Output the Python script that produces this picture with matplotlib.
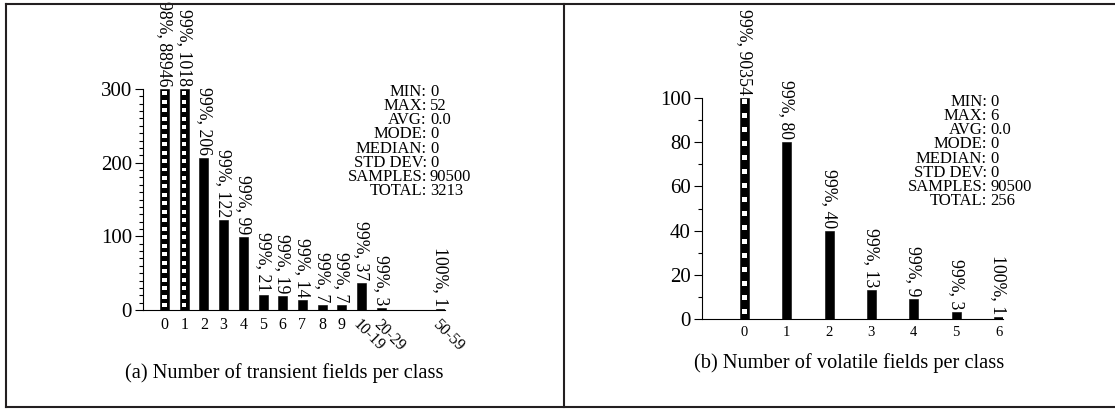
import numpy as np
import matplotlib
matplotlib.use('Agg')
import matplotlib.pyplot as plt
from matplotlib.lines import Line2D
from matplotlib.ticker import MultipleLocator

plt.rcParams['font.family'] = ['Liberation Serif', 'DejaVu Serif']

# (a) transient fields per class
trans_cats = ['0', '1', '2', '3', '4', '5', '6', '7', '8', '9',
              '10-19', '20-29', '30-39', '40-49', '50-59']
trans_counts = [88946, 1018, 206, 122, 99, 21, 19, 14, 7, 7, 37, 3, 0, 0, 1]
trans_pct = [98, 99, 99, 99, 99, 99, 99, 99, 99, 99, 99, 99, 100, 100, 100]
trans_stats = ['0', '52', '0.0', '0', '0', '0', '90500', '3213']

# (b) volatile fields per class
vol_cats = ['0', '1', '2', '3', '4', '5', '6']
vol_counts = [90354, 80, 40, 13, 9, 3, 1]
vol_pct = [99, 99, 99, 99, 99, 99, 100]
vol_stats = ['0', '6', '0.0', '0', '0', '0', '90500', '256']

stat_names = ['MIN', 'MAX', 'AVG', 'MODE', 'MEDIAN', 'STD DEV', 'SAMPLES', 'TOTAL']

fig = plt.figure(figsize=(11.15, 4.09), dpi=100)


def panel(rect, cats, counts, pct, stats, ymax, ymaj, ymin, xlim, barw,
          xfs, sx, sy, sq):
    ax = fig.add_axes(rect)
    x = np.arange(len(cats))
    counts = np.array(counts)
    shown = np.minimum(counts, ymax)
    ax.bar(x, shown, barw, color='black', edgecolor='black', linewidth=0.4)
    # checkered look for the bars that run off the top
    period, sqh, sqw = sq
    for xi, h, c in zip(x, shown, counts):
        if c > ymax:
            bottoms = np.arange(period * 0.35, h - sqh * 0.5, period)
            ax.bar(np.full(len(bottoms), xi), sqh, barw * sqw, bottom=bottoms,
                   color='white', linewidth=0)
    for xi, h, c, p in zip(x, shown, counts, pct):
        if c > 0:
            ax.annotate('%d%%, %d' % (p, c), (xi, h), xytext=(0, 2),
                        textcoords='offset points', rotation=270,
                        ha='center', va='bottom', fontsize=12.8,
                        annotation_clip=False)
    ax.set_xlim(*xlim)
    ax.set_ylim(0, ymax)
    ax.set_xticks(x)
    ax.set_xticklabels([c if n > 0 else '' for c, n in zip(cats, counts)])
    for lab in ax.get_xticklabels():
        if '-' in lab.get_text():
            lab.set_rotation(-45)
            lab.set_rotation_mode('anchor')
            lab.set_ha('left')
            lab.set_va('top')
    ax.yaxis.set_major_locator(MultipleLocator(ymaj))
    ax.yaxis.set_minor_locator(MultipleLocator(ymin))
    ax.tick_params(axis='x', length=0, pad=5, labelsize=xfs)
    ax.tick_params(axis='y', which='major', length=6, width=0.8,
                   labelsize=15, pad=2)
    ax.tick_params(axis='y', which='minor', length=3, width=0.8)
    ax.spines['top'].set_visible(False)
    ax.spines['right'].set_visible(False)
    ax.spines['left'].set_linewidth(0.8)
    ax.spines['bottom'].set_linewidth(0.8)
    # stats block: names right-aligned on the colon, values left-aligned
    gap = 3 / (rect[2] * 1115)
    ax.text(sx, sy, '\n'.join(k + ':' for k in stat_names), transform=ax.transAxes,
            ha='right', va='center', multialignment='right', fontsize=12,
            linespacing=0.85)
    ax.text(sx + gap, sy, '\n'.join(stats), transform=ax.transAxes,
            ha='left', va='center', multialignment='left', fontsize=12,
            linespacing=0.85)
    return ax


panel([143 / 1115, 99 / 409, 302 / 1115, 221 / 409], trans_cats, trans_counts,
      trans_pct, trans_stats, 300, 100, 10, (-1.09, 14.23), 0.457, 11.5,
      0.940, (310 - 141.5) / 221, (11.5, 5.4, 0.48))
panel([702 / 1115, 90 / 409, 301 / 1115, 221 / 409], vol_cats, vol_counts,
      vol_pct, vol_stats, 100, 20, 10, (-1.0, 6.106), 0.213, 10.5,
      0.947, (319 - 151.5) / 221, (6.33, 2.26, 0.55))

fig.text(284 / 1115, 1 - 373 / 409, '(a) Number of transient fields per class',
         ha='center', va='center', fontsize=14.7)
fig.text(849 / 1115, 1 - 363 / 409, '(b) Number of volatile fields per class',
         ha='center', va='center', fontsize=14.7)

# frame around the two sub-figures
fc = '#231f20'
top = 1 - 4 / 409
bot = 1 - 407 / 409
fig.add_artist(Line2D([6 / 1115, 1], [top, top], transform=fig.transFigure, color=fc, lw=1.5))
fig.add_artist(Line2D([6 / 1115, 1], [bot, bot], transform=fig.transFigure, color=fc, lw=1.5))
fig.add_artist(Line2D([6 / 1115, 6 / 1115], [bot, top], transform=fig.transFigure, color=fc, lw=1.5))
fig.add_artist(Line2D([564 / 1115, 564 / 1115], [bot, top], transform=fig.transFigure, color=fc, lw=1.5))

fig.savefig('out.png', dpi=100)
